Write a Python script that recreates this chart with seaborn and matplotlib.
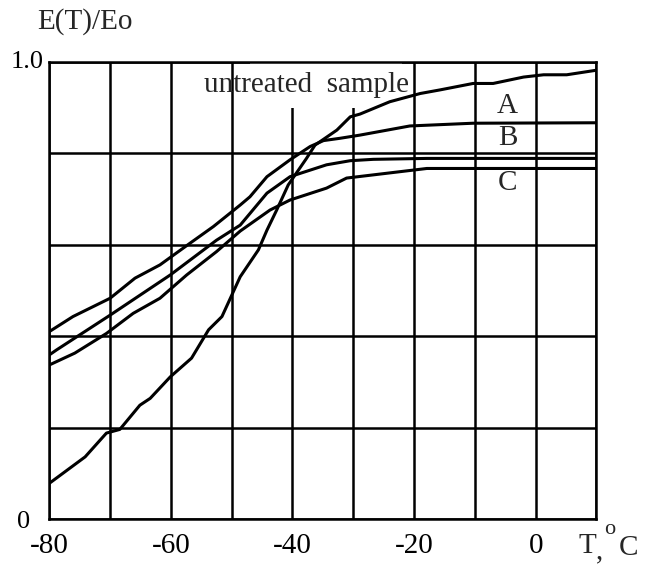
import matplotlib
matplotlib.use('Agg')
import matplotlib.pyplot as plt
import matplotlib.transforms as mtransforms
from matplotlib.patches import Rectangle
import pandas as pd
import seaborn as sns

# curves (temperature in C, E(T)/Eo)
untreated_t = [-80, -74.1, -70.6, -68.4, -65.1, -63.4, -60.1, -56.6, -53.8, -51.6,
               -48.6, -45.6, -44.2, -42.6, -40.7, -37.7, -36.3, -32.7, -30.5, -28.9,
               -24.0, -19.0, -15.7, -10.3, -7.0, -2.0, 1.3, 5.1, 10]
untreated_e = [0.078, 0.136, 0.188, 0.196, 0.249, 0.264, 0.311, 0.352, 0.414, 0.443,
               0.530, 0.589, 0.632, 0.676, 0.731, 0.789, 0.818, 0.851, 0.880, 0.886,
               0.913, 0.931, 0.939, 0.953, 0.953, 0.967, 0.972, 0.972, 0.982]

a_t = [-80, -76.1, -70.0, -65.9, -61.8, -56.9, -53.0, -48.6, -47.0, -44.2,
       -40.4, -37.1, -34.9, -32.2, -28.9, -20.7, -10.3, 10]
a_e = [0.41, 0.443, 0.483, 0.527, 0.556, 0.603, 0.640, 0.687, 0.705, 0.749,
       0.786, 0.815, 0.828, 0.833, 0.840, 0.860, 0.866, 0.867]

b_t = [-80, -78.8, -70, -60.1, -52.5, -48.6, -44.2, -40.4, -38.8, -34.4,
       -30.5, -26.7, -17.9, 10]
b_e = [0.359, 0.37, 0.446, 0.534, 0.61, 0.643, 0.713, 0.749, 0.756, 0.775,
       0.784, 0.787, 0.789, 0.789]

c_t = [-80, -75.8, -70.6, -66.2, -61.8, -57.4, -52.5, -48.6, -43.7, -40.4,
       -34.4, -31.1, -26.7, -17.9, 10]
c_e = [0.337, 0.363, 0.406, 0.45, 0.483, 0.534, 0.585, 0.630, 0.676, 0.698,
       0.724, 0.746, 0.753, 0.767, 0.767]

x_ticks = list(range(-80, 11, 10))
x_labels = ['-80', '', '-60', '', '-40', '', '-20', '', '0', '']
y_ticks = [0, 0.2, 0.4, 0.6, 0.8, 1.0]
y_labels = ['0', '', '', '', '', '1.0']

sns.set_theme(style='white')
plt.rcParams['font.family'] = ['Liberation Serif', 'DejaVu Serif']

df = pd.concat([
    pd.DataFrame({'T': untreated_t, 'E': untreated_e, 'curve': 'untreated'}),
    pd.DataFrame({'T': a_t, 'E': a_e, 'curve': 'A'}),
    pd.DataFrame({'T': b_t, 'E': b_e, 'curve': 'B'}),
    pd.DataFrame({'T': c_t, 'E': c_e, 'curve': 'C'}),
])

fig = plt.figure(figsize=(6.45, 5.65), dpi=100)
ax = fig.add_axes([0.0764, 0.0814, 0.8484, 0.8089])

sns.lineplot(data=df, x='T', y='E', hue='curve', units='curve', estimator=None,
             palette={'untreated': 'black', 'A': 'black', 'B': 'black', 'C': 'black'},
             linewidth=2.2, legend=False, ax=ax, zorder=3)

ax.set_xlim(-80, 10)
ax.set_ylim(0, 1.0)
ax.set_xticks(x_ticks)
ax.set_xticklabels(x_labels, fontsize=21)
ax.set_yticks(y_ticks)
ax.set_yticklabels(y_labels, fontsize=19)
ax.tick_params(axis='x', length=0, pad=10, colors='black')
ax.tick_params(axis='y', length=0, pad=4, colors='black')
ax.set_xlabel('')
ax.set_ylabel('')
ax.grid(True, color='black', linewidth=1.8)
ax.set_axisbelow(True)
for s in ax.spines.values():
    s.set_color('black')
    s.set_linewidth(1.8)

# the "0" label sits further from the axis, "1.0" a bit higher
lab0 = ax.get_yticklabels()[0]
lab0.set_transform(lab0.get_transform() +
                   mtransforms.ScaledTranslation(-10 / 72, 0, fig.dpi_scale_trans))
lab1 = ax.get_yticklabels()[-1]
lab1.set_transform(lab1.get_transform() +
                   mtransforms.ScaledTranslation(0, 2 / 72, fig.dpi_scale_trans))

# white patch behind the "untreated sample" caption
ax.add_patch(Rectangle((-47, 0.9), 25, 0.097, facecolor='white',
                       edgecolor='none', zorder=1))
ax.text(-37.7, 0.95, 'untreated  sample', fontsize=21, ha='center', va='center', zorder=4)
ax.text(-4.7, 0.903, 'A', fontsize=21, ha='center', va='center')
ax.text(-4.6, 0.834, 'B', fontsize=21, ha='center', va='center')
ax.text(-4.6, 0.736, 'C', fontsize=21, ha='center', va='center')

fig.text(37 / 645, 1 - 22 / 565, 'E(T)/Eo', fontsize=21, ha='left', va='center')
fig.text(587 / 645, 1 - 546 / 565, 'T', fontsize=21, ha='center', va='center')
fig.text(600 / 645, 1 - 551 / 565, ',', fontsize=21, ha='center', va='center')
fig.text(610 / 645, 1 - 530 / 565, 'o', fontsize=16, ha='center', va='center')
fig.text(628 / 645, 1 - 548 / 565, 'C', fontsize=21, ha='center', va='center')

fig.savefig('out.png', dpi=100)
